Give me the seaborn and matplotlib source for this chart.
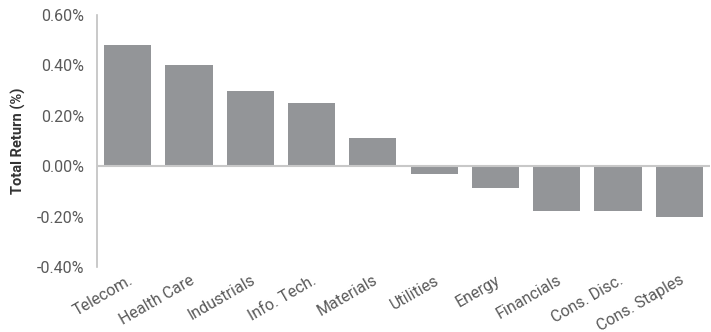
import matplotlib
matplotlib.use("Agg")
import matplotlib.pyplot as plt
import seaborn as sns
import pandas as pd
from matplotlib.ticker import FuncFormatter

sectors = ["Telecom.", "Health Care", "Industrials", "Info. Tech.", "Materials",
           "Utilities", "Energy", "Financials", "Cons. Disc.", "Cons. Staples"]
returns = [0.48, 0.40, 0.30, 0.25, 0.11, -0.03, -0.085, -0.18, -0.18, -0.20]
yticks = [-0.4, -0.2, 0.0, 0.2, 0.4, 0.6]

sns.set_style("white")
plt.rcParams['font.family'] = ['Roboto', 'DejaVu Sans']

df = pd.DataFrame({"Sector": sectors, "Return": returns})

fig = plt.figure(figsize=(7.11, 3.32), dpi=100)
ax = fig.add_axes([0.1364, 0.196, 0.8622, 0.759])
sns.barplot(data=df, x="Sector", y="Return", color="#939598", saturation=1,
            width=0.77, linewidth=0, ax=ax)

ax.set_ylim(-0.4, 0.6)
ax.set_xlim(-0.5, len(sectors) - 0.5)
ax.set_yticks(yticks)
ax.yaxis.set_major_formatter(FuncFormatter(lambda v, p: f"{v:.2f}%"))
ax.axhline(0, color="#c8c8c8", lw=1.5, zorder=3)

for s in ["top", "right", "bottom"]:
    ax.spines[s].set_visible(False)
ax.spines["left"].set_color("#c0c0c0")
ax.spines["left"].set_linewidth(1.2)

ax.tick_params(axis="both", length=0, labelsize=11.5, labelcolor="#5a5a5a")
ax.tick_params(axis="y", pad=9)
ax.set_xticks(range(len(sectors)))
ax.set_xticklabels(sectors, rotation=30, ha="right", rotation_mode="anchor")
ax.tick_params(axis="x", pad=4)
ax.set_xlabel("")
ax.set_ylabel("Total Return (%)", fontsize=10.5, fontweight="bold", color="#333333",
              labelpad=8)

fig.savefig("out.png", dpi=100)
